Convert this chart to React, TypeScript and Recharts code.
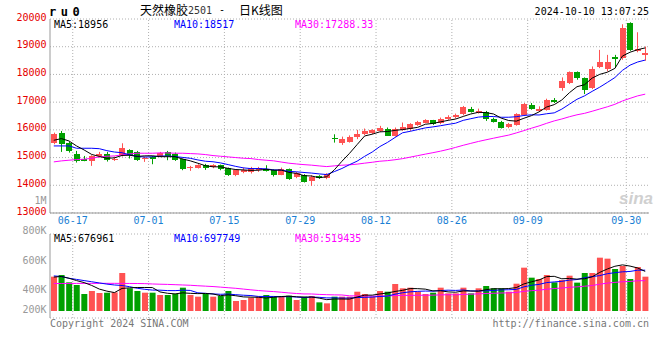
import { Bar, CartesianGrid, Cell, ComposedChart, Line, ReferenceLine, XAxis, YAxis } from "recharts";

// trading days shown (MM-DD)
const dates = [
  "06-13", "06-14", "06-17", "06-18", "06-19", "06-20", "06-21", "06-24", "06-25", "06-26", "06-27", "06-28",
  "07-01", "07-02", "07-03", "07-04", "07-05", "07-08", "07-09", "07-10", "07-11", "07-12", "07-15", "07-16",
  "07-17", "07-18", "07-19", "07-22", "07-23", "07-24", "07-25", "07-26", "07-29", "07-30", "07-31",
  "08-01", "08-02", "08-05", "08-06", "08-07", "08-08", "08-09", "08-12", "08-13", "08-14", "08-15", "08-16",
  "08-19", "08-20", "08-21", "08-22", "08-23", "08-26", "08-27", "08-28", "08-29", "08-30",
  "09-02", "09-03", "09-04", "09-05", "09-06", "09-09", "09-10", "09-11", "09-12", "09-13", "09-18", "09-19",
  "09-20", "09-23", "09-24", "09-25", "09-26", "09-27", "09-30", "10-08", "10-09", "10-10",
];

const open = [
  15540, 15888, 15528, 15120, 14964, 14880, 15048, 15120, 14916, 15084,
  15264, 15192, 14964, 15036, 15060, 15216, 15120, 14940, 14604, 14628,
  14748, 14640, 14724, 14616, 14364, 14484, 14496, 14556, 14604, 14544,
  14376, 14580, 14304, 14364, 14160, 14340, 14256, 15696, 15504, 15580,
  15724, 15844, 15880, 15988, 16048, 15808, 15988, 16024, 16180, 16264,
  16347, 16240, 16420, 16467, 16563, 16743, 16623, 16659, 16407, 16288,
  16094, 16188, 16548, 16908, 16692, 16728, 17088, 17508, 17688, 18084,
  17868, 17508, 18252, 18204, 18622, 18586, 19870, 18840, 18720,
];
const high = [
  15900, 15960, 15564, 15240, 15060, 15084, 15204, 15204, 15036, 15516,
  15300, 15240, 15036, 15060, 15204, 15240, 15180, 14964, 14700, 14760,
  14772, 14760, 14748, 14640, 14580, 14640, 14664, 14664, 14724, 14580,
  14640, 14604, 14484, 14400, 14364, 14364, 14436, 15840, 15756, 15800,
  16000, 16048, 16024, 16144, 16084, 16084, 16264, 16240, 16323, 16383,
  16360, 16443, 16527, 16587, 16863, 16827, 16767, 16683, 16443, 16323,
  16250, 16600, 16968, 16968, 16849, 17124, 17148, 17892, 18108, 18108,
  17892, 18288, 18886, 18706, 18706, 19810, 19882, 19522, 19007,
];
const low = [
  15480, 15204, 15180, 14820, 14868, 14700, 15000, 14856, 14880, 15036,
  14964, 14880, 14844, 14760, 15036, 14904, 14880, 14544, 14520, 14604,
  14556, 14616, 14544, 14340, 14328, 14436, 14424, 14484, 14496, 14316,
  14364, 14196, 14256, 14100, 13980, 14232, 14220, 15540, 15456, 15540,
  15665, 15808, 15844, 15928, 15784, 15760, 15964, 15964, 16144, 16240,
  16180, 16204, 16360, 16407, 16527, 16623, 16587, 16323, 16264, 16048,
  16060, 16150, 16525, 16728, 16644, 16692, 16968, 17412, 17652, 17808,
  17292, 17472, 18228, 18108, 18228, 18526, 18850, 18800, 18492,
];
const close = [
  15864, 15480, 15240, 14880, 14904, 15060, 15120, 14904, 14964, 15336,
  15096, 14916, 15000, 14976, 15180, 15084, 14916, 14580, 14652, 14748,
  14628, 14724, 14580, 14364, 14544, 14556, 14640, 14616, 14532, 14376,
  14580, 14220, 14436, 14124, 14316, 14268, 14400, 15684, 15660, 15750,
  15844, 15964, 16000, 16084, 15808, 16048, 16108, 16204, 16288, 16360,
  16204, 16383, 16480, 16527, 16827, 16647, 16683, 16420, 16288, 16084,
  16212, 16572, 16932, 16764, 16764, 17088, 17004, 17772, 18072, 17850,
  17448, 18200, 18440, 18460, 18540, 19680, 18886, 18900, 18780,
];

const ma5 = [
  15624, 15684, 15600, 15420, 15274, 15113, 15041, 14974, 14990, 15077,
  15084, 15043, 15062, 15065, 15034, 15031, 15031, 14947, 14882, 14796,
  14705, 14666, 14666, 14609, 14568, 14554, 14537, 14544, 14578, 14544,
  14549, 14465, 14429, 14347, 14335, 14273, 14309, 14558, 14866, 15152,
  15468, 15780, 15844, 15928, 15940, 15981, 16010, 16050, 16091, 16202,
  16233, 16288, 16343, 16391, 16484, 16573, 16633, 16621, 16573, 16424,
  16337, 16315, 16418, 16513, 16649, 16824, 16910, 17078, 17340, 17557,
  17629, 17868, 18002, 18080, 18218, 18664, 18801, 18893, 18957,
];
const ma10 = [
  15420, 15420, 15420, 15336, 15336, 15336, 15320, 15250, 15200, 15175,
  15098, 15042, 15018, 15028, 15055, 15058, 15037, 15005, 14974, 14915,
  14868, 14849, 14807, 14746, 14682, 14629, 14602, 14605, 14593, 14556,
  14551, 14501, 14486, 14462, 14440, 14411, 14387, 14494, 14606, 14744,
  14870, 15045, 15201, 15397, 15546, 15724, 15895, 15947, 16010, 16071,
  16107, 16149, 16197, 16241, 16343, 16403, 16460, 16482, 16482, 16454,
  16455, 16474, 16519, 16543, 16537, 16581, 16613, 16748, 16926, 17103,
  17227, 17389, 17540, 17710, 17887, 18147, 18335, 18448, 18518,
];
const ma30 = [
  14844, 14880, 14904, 14928, 14940, 14976, 15024, 15048, 15060, 15096,
  15132, 15156, 15156, 15156, 15168, 15168, 15156, 15156, 15144, 15132,
  15108, 15072, 15048, 15024, 15000, 14976, 14964, 14928, 14904, 14882,
  14839, 14797, 14770, 14745, 14726, 14699, 14675, 14701, 14724, 14738,
  14763, 14798, 14831, 14868, 14889, 14921, 14961, 15015, 15070, 15124,
  15176, 15231, 15295, 15367, 15443, 15513, 15581, 15641, 15699, 15756,
  15811, 15889, 15972, 16060, 16142, 16236, 16323, 16392, 16473, 16543,
  16596, 16671, 16752, 16831, 16922, 17043, 17136, 17226, 17288,
];

// volume, thousands of lots
const volK = [
  587, 616, 490, 445, 291, 342, 308, 313, 319, 650,
  388, 342, 313, 313, 274, 274, 291, 399, 274, 245,
  291, 245, 257, 342, 171, 188, 228, 245, 274, 245,
  245, 262, 188, 245, 257, 148, 131, 245, 245, 245,
  330, 291, 245, 342, 330, 462, 388, 399, 330, 291,
  313, 399, 302, 302, 399, 302, 388, 428, 388, 388,
  330, 467, 741, 570, 547, 616, 490, 530, 604, 485,
  650, 650, 912, 895, 718, 770, 547, 752, 587,
];
const vma5 = [
  580, 590, 560, 520, 486, 437, 375, 340, 315, 386,
  396, 402, 402, 401, 326, 303, 293, 310, 302, 297,
  300, 291, 262, 276, 261, 241, 237, 235, 221, 236,
  247, 254, 243, 237, 239, 220, 194, 205, 205, 203,
  239, 271, 271, 291, 308, 334, 353, 384, 382, 374,
  344, 346, 327, 321, 343, 341, 339, 364, 381, 379,
  384, 400, 463, 499, 531, 588, 593, 551, 557, 545,
  552, 584, 660, 718, 765, 789, 768, 736, 677,
];
const vma10 = [
  600, 590, 560, 540, 520, 500, 480, 460, 445, 436,
  416, 389, 371, 358, 356, 349, 348, 356, 352, 311,
  302, 292, 286, 289, 279, 270, 264, 249, 249, 249,
  244, 246, 239, 229, 238, 234, 224, 224, 221, 221,
  230, 233, 238, 248, 255, 287, 312, 328, 336, 341,
  339, 350, 356, 352, 359, 343, 343, 345, 351, 361,
  363, 369, 413, 440, 455, 486, 497, 507, 528, 538,
  570, 588, 605, 638, 655, 670, 676, 698, 698,
];
const vma30 = [
  470, 470, 471, 472, 472, 472, 473, 473, 473, 472,
  471, 470, 468, 462, 458, 455, 450, 445, 440, 432,
  425, 418, 408, 398, 388, 375, 362, 350, 340, 332,
  321, 309, 299, 292, 291, 284, 279, 276, 274, 260,
  258, 257, 254, 255, 257, 264, 267, 267, 269, 270,
  271, 276, 278, 276, 284, 288, 293, 299, 303, 308,
  310, 317, 336, 347, 356, 372, 384, 393, 405, 413,
  424, 436, 458, 477, 489, 500, 505, 517, 519,
];

const tickDates = ["06-17", "07-01", "07-15", "07-29", "08-12", "08-26", "09-09", "09-30"];
const priceTicks = [13000, 14000, 15000, 16000, 17000, 18000, 19000, 20000];
const volLabels = [
  { text: "1M", y: 201 },
  { text: "800K", y: 231 },
  { text: "600K", y: 261 },
  { text: "400K", y: 290 },
  { text: "200K", y: 310 },
];

const UP = "#ff5252";
const DOWN = "#00a000";
const GRID = "#b0b0b0";
const FRAME = "#999999";
const MONO = "'DejaVu Sans Mono', monospace";
const CJK = "'Noto Sans CJK SC', sans-serif";

const PLOT_W = 599;
const HALF_BAND = PLOT_W / dates.length / 2;
const VOL_MIN = -119.7;
const VOL_MAX = 1316.7;
const volGrid = [1, 2, 3].map((k) => VOL_MIN + ((VOL_MAX - VOL_MIN) * k) / 4);

const rows = dates.map((d, i) => ({
  d,
  o: open[i],
  h: high[i],
  l: low[i],
  c: close[i],
  range: [low[i], high[i]],
  ma5: ma5[i],
  ma10: ma10[i],
  ma30: ma30[i],
  vol: volK[i],
  vma5: vma5[i],
  vma10: vma10[i],
  vma30: vma30[i],
}));

function Candle(props: any) {
  const { x, y, width, height, payload } = props;
  const top = Math.min(y, y + height);
  const h = Math.abs(height);
  const k = h / (payload.h - payload.l || 1);
  const yOf = (v: number) => top + (payload.h - v) * k;
  const color = payload.c >= payload.o ? UP : DOWN;
  const bodyTop = yOf(Math.max(payload.o, payload.c));
  const bodyBot = yOf(Math.min(payload.o, payload.c));
  const cx = Math.floor(x + width / 2) + 0.5;
  return (
    <g>
      <line x1={cx} x2={cx} y1={top} y2={top + h} stroke={color} />
      <rect
        x={Math.round(x)}
        y={Math.round(bodyTop)}
        width={Math.round(width)}
        height={Math.max(1, Math.round(bodyBot - bodyTop))}
        fill={color}
      />
    </g>
  );
}

const PriceTick = ({ x, y, payload }: any) => (
  <text x={x - 3.5} y={y - 2} textAnchor="end" dominantBaseline="central" fill="#e60000" fontFamily={MONO} fontSize={10}>
    {payload.value}
  </text>
);

const DateTick = ({ x, y, payload }: any) => (
  <text x={x + HALF_BAND} y={y + 7.5} textAnchor="middle" dominantBaseline="central" fill="#1a7fd4" fontFamily={MONO} fontSize={10}>
    {payload.value}
  </text>
);

function T({ x, y, color = "#000", right = false, size = 10, font = MONO, bold = false, italic = false, spacing = 0, children }: any) {
  return (
    <div
      style={{
        position: "absolute",
        left: right ? undefined : x,
        right: right ? 660 - x : undefined,
        top: y - 7,
        height: 14,
        lineHeight: "14px",
        fontSize: size,
        fontFamily: font,
        fontWeight: bold ? 700 : 400,
        fontStyle: italic ? "italic" : "normal",
        letterSpacing: spacing,
        color,
        whiteSpace: "nowrap",
      }}
    >
      {children}
    </div>
  );
}

function gridLines() {
  return tickDates.map((d) => (
    <ReferenceLine key={d} x={d} position="end" stroke={GRID} strokeDasharray="1 2" />
  ));
}

export default function App() {
  return (
    <div style={{ position: "absolute", left: 0, top: 0, width: 660, height: 360, background: "#fff", overflow: "hidden" }}>
      <div style={{ position: "absolute", left: 0, top: 0 }}>
        <ComposedChart width={660} height={235} data={rows} margin={{ top: 19, right: 11, bottom: 0, left: 0 }}>
          <CartesianGrid vertical={false} stroke={GRID} strokeDasharray="1 2" />
          {gridLines()}
          <XAxis
            dataKey="d"
            ticks={tickDates}
            interval={0}
            height={22}
            tickSize={0}
            tickMargin={0}
            tickLine={false}
            axisLine={{ stroke: FRAME }}
            tick={<DateTick />}
          />
          <XAxis xAxisId="top" orientation="top" dataKey="d" height={0} tick={false} tickLine={false} axisLine={{ stroke: FRAME }} />
          <YAxis
            domain={[13000, 20000]}
            ticks={priceTicks}
            width={50}
            tickSize={0}
            tickMargin={0}
            tickLine={false}
            axisLine={{ stroke: FRAME }}
            tick={<PriceTick />}
          />
          <YAxis yAxisId="right" orientation="right" width={0} domain={[13000, 20000]} tick={false} tickLine={false} axisLine={{ stroke: FRAME }} />
          <Bar dataKey="range" barSize={6} isAnimationActive={false} shape={(p: any) => <Candle {...p} />} />
          <Line dataKey="ma30" stroke="#ff00ff" strokeWidth={1} dot={false} isAnimationActive={false} />
          <Line dataKey="ma10" stroke="#0000ff" strokeWidth={1} dot={false} isAnimationActive={false} />
          <Line dataKey="ma5" stroke="#000000" strokeWidth={1} dot={false} isAnimationActive={false} />
        </ComposedChart>
      </div>

      <div style={{ position: "absolute", left: 0, top: 226 }}>
        <ComposedChart width={660} height={100} data={rows} margin={{ top: 8, right: 11, bottom: 8, left: 0 }}>
          <CartesianGrid vertical={false} stroke={GRID} strokeDasharray="1 2" />
          {gridLines()}
          <XAxis dataKey="d" height={0} tick={false} tickLine={false} axisLine={{ stroke: FRAME }} />
          <XAxis xAxisId="top" orientation="top" dataKey="d" height={0} tick={false} tickLine={false} axisLine={{ stroke: FRAME }} />
          <YAxis domain={[VOL_MIN, VOL_MAX]} ticks={volGrid} width={50} tick={false} tickLine={false} axisLine={{ stroke: FRAME }} />
          <YAxis yAxisId="right" orientation="right" width={0} domain={[VOL_MIN, VOL_MAX]} tick={false} tickLine={false} axisLine={{ stroke: FRAME }} />
          <Bar dataKey="vol" barSize={6} isAnimationActive={false}>
            {rows.map((r, i) => (
              <Cell key={i} fill={r.c >= r.o ? UP : DOWN} />
            ))}
          </Bar>
          <Line dataKey="vma30" stroke="#ff00ff" strokeWidth={1} dot={false} isAnimationActive={false} />
          <Line dataKey="vma10" stroke="#0000ff" strokeWidth={1} dot={false} isAnimationActive={false} />
          <Line dataKey="vma5" stroke="#000000" strokeWidth={1} dot={false} isAnimationActive={false} />
        </ComposedChart>
      </div>

      {/* header */}
      <T x={49} y={12} size={12} bold spacing={4.5}>ru0</T>
      <T x={140} y={10} size={12} font={CJK}>天然橡胶</T>
      <T x={188} y={11} color="#333">2501</T>
      <T x={219} y={10}>-</T>
      <T x={239} y={10} size={12} font={CJK}>日K线图</T>
      <T x={649} y={12} right>2024-10-10 13:07:25</T>

      {/* price legend */}
      <T x={54} y={24.5}>MA5:18956</T>
      <T x={174} y={24.5} color="#0000ff">MA10:18517</T>
      <T x={295} y={24.5} color="#ff00ff">MA30:17288.33</T>

      {/* volume legend */}
      <T x={54} y={238.5}>MA5:676961</T>
      <T x={174} y={238.5} color="#0000ff">MA10:697749</T>
      <T x={295} y={238.5} color="#ff00ff">MA30:519435</T>

      {volLabels.map((v) => (
        <T key={v.text} x={46.5} y={v.y} right color="#999">{v.text}</T>
      ))}

      <T x={619} y={199} size={17} bold italic font="'Liberation Sans', sans-serif" color="#d0d0d0">sina</T>

      <T x={50} y={324} color="#777">Copyright 2024 SINA.COM</T>
      <T x={649} y={324} right color="#777">http://finance.sina.com.cn</T>
    </div>
  );
}
